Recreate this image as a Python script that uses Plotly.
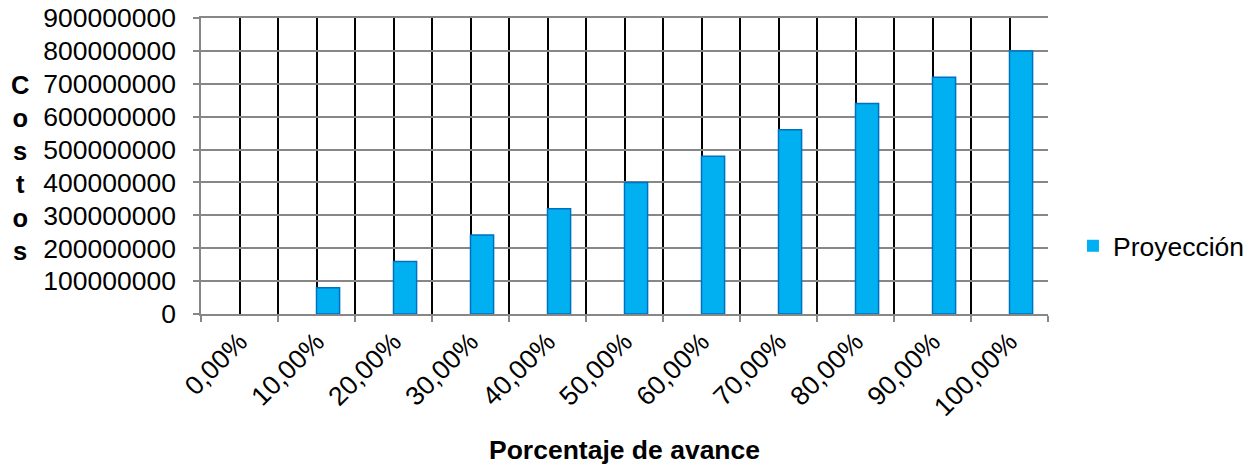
import numpy as np
import plotly.graph_objects as go

# Avance del proyecto y costo proyectado
categorias = ["0,00%", "10,00%", "20,00%", "30,00%", "40,00%", "50,00%",
              "60,00%", "70,00%", "80,00%", "90,00%", "100,00%"]
proyeccion = [0, 80000000, 160000000, 240000000, 320000000, 400000000,
              480000000, 560000000, 640000000, 720000000, 800000000]
y_ticks = [0, 100000000, 200000000, 300000000, 400000000, 500000000,
           600000000, 700000000, 800000000, 900000000]

centros = np.arange(len(categorias)) + 0.5
limites = np.arange(len(categorias) + 1)

FONT = "Liberation Sans, Arial, sans-serif"
FS = 26.5
GRIS = "#878787"
NEGRO = "#000000"

# barras sin valor no llevan borde
bordes = [0 if v == 0 else 1.5 for v in proyeccion]

fig = go.Figure()
fig.add_trace(go.Bar(
    x=centros,
    y=proyeccion,
    width=0.3,
    offset=0,
    name="Proyección",
    showlegend=True,
    marker=dict(color="#00B0F0", line=dict(color="#0070C0", width=bordes)),
))

fig.update_layout(
    width=1252,
    height=466,
    margin=dict(l=201, r=204, t=18, b=152, autoexpand=False),
    paper_bgcolor="white",
    plot_bgcolor="white",
    font=dict(family=FONT, size=FS, color="black"),
    legend=dict(xref="container", yref="container", x=0.857, y=0.472,
                xanchor="left", yanchor="middle",
                font=dict(size=FS), itemwidth=30, bgcolor="rgba(0,0,0,0)"),
    annotations=[
        dict(text="<b>Porcentaje de avance</b>", xref="paper", yref="paper",
             x=0.5, y=-0.458, xanchor="center", yanchor="middle",
             showarrow=False, font=dict(size=FS)),
        dict(text="<b>C<br>o<br>s<br>t<br>o<br>s</b>", xref="paper", yref="paper",
             x=-0.2137, y=0.494, xanchor="center", yanchor="middle",
             showarrow=False, font=dict(size=25.5)),
    ],
)

fig.update_xaxes(
    range=[0, len(categorias)],
    tickmode="array",
    tickvals=centros,
    ticktext=categorias,
    ticks="",
    tickangle=-45,
    ticklabelstandoff=0,
    showgrid=True,
    gridcolor=NEGRO,
    gridwidth=1.5,
    showline=True,
    linecolor=GRIS,
    linewidth=1.5,
    mirror=True,
    zeroline=False,
    minor=dict(tickmode="array", tickvals=limites, ticks="outside", ticklen=6,
               tickcolor=GRIS, tickwidth=1.5, showgrid=True,
               gridcolor=NEGRO, gridwidth=1.5),
)

fig.update_yaxes(
    range=[0, 900000000],
    tickmode="array",
    tickvals=y_ticks,
    tickformat="d",
    ticks="outside",
    ticklen=6,
    tickcolor=GRIS,
    tickwidth=1.5,
    ticklabelstandoff=12,
    showgrid=True,
    gridcolor=GRIS,
    gridwidth=1.5,
    showline=True,
    linecolor=GRIS,
    linewidth=1.5,
    zeroline=False,
)

fig.write_html("out.html")
